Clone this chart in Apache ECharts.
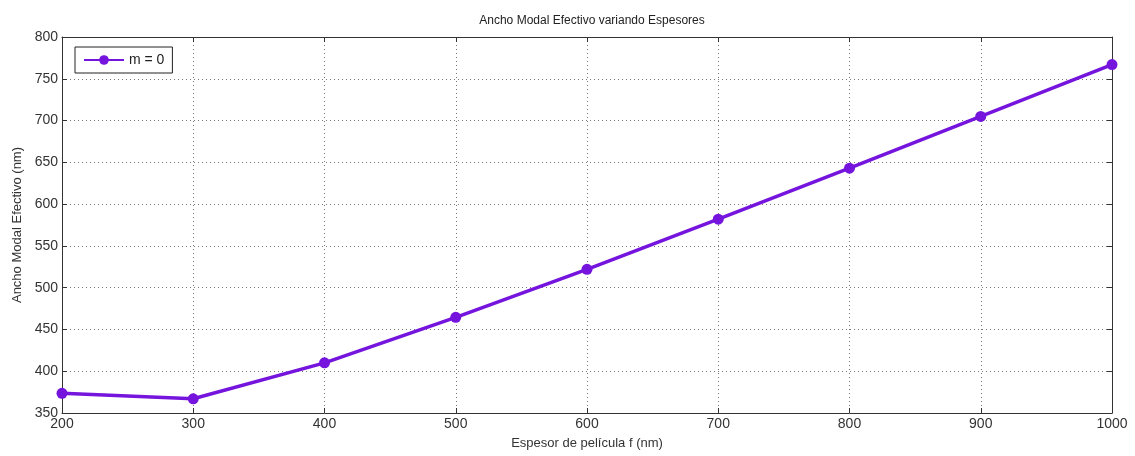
<!DOCTYPE html>
<html><head><meta charset="utf-8">
<script src="https://cdn.jsdelivr.net/npm/echarts@6/dist/echarts.min.js"></script>
<style>html,body{margin:0;padding:0;background:#fff}#c{width:1135px;height:456px}</style>
</head><body><div id="c"></div>
<script>
const xValues = [200, 300, 400, 500, 600, 700, 800, 900, 1000];
const seriesM0 = [373.5, 367, 410, 464.5, 522, 582, 643, 705, 767];
const seriesName = 'm = 0';
const titleText = 'Ancho Modal Efectivo variando Espesores';
const xName = 'Espesor de película f (nm)';
const yName = 'Ancho Modal Efectivo (nm)';

const font = 'Liberation Sans, Arial, sans-serif';
const col = '#7514dd';
const chart = echarts.init(document.getElementById('c'));
const axisLine = {show: true, lineStyle: {color: '#333', width: 1}};
const grid = {show: true, lineStyle: {color: '#777', type: [1, 3], width: 1}};
chart.setOption({
  animation: false,
  title: {text: titleText, left: 587, top: 10, textAlign: 'center',
    textStyle: {fontFamily: font, fontSize: 12, fontWeight: 'normal', color: '#222'}},
  legend: {left: 75, top: 47, orient: 'vertical', borderColor: '#222', borderWidth: 1,
    padding: [6, 8, 6, 8], itemWidth: 40, itemHeight: 12, itemGap: 4,
    textStyle: {fontFamily: font, fontSize: 14, color: '#222'}, data: [seriesName]},
  grid: {left: 62, right: 23, top: 37, bottom: 43},
  xAxis: [{type: 'value', min: 200, max: 1000, interval: 100,
    name: xName, nameLocation: 'middle', nameGap: 24,
    nameTextStyle: {fontFamily: font, fontSize: 13, color: '#333'},
    axisLine: axisLine, axisTick: {show: true, inside: true, length: 5, lineStyle: {color: '#333'}},
    axisLabel: {fontFamily: font, fontSize: 14, color: '#333', margin: 4, formatter: v => String(v)},
    splitLine: grid},
   {type: 'value', position: 'top', min: 200, max: 1000, interval: 100,
    axisLine: axisLine, axisTick: {show: true, inside: true, length: 5, lineStyle: {color: '#333'}},
    axisLabel: {show: false}, splitLine: {show: false}}],
  yAxis: [{type: 'value', min: 350, max: 800, interval: 50,
    name: yName, nameLocation: 'middle', nameGap: 38, nameRotate: 90,
    nameTextStyle: {fontFamily: font, fontSize: 13, color: '#333'},
    axisLine: axisLine, axisTick: {show: true, inside: true, length: 5, lineStyle: {color: '#333'}},
    axisLabel: {fontFamily: font, fontSize: 14, color: '#333', margin: 4},
    splitLine: grid},
   {type: 'value', position: 'right', min: 350, max: 800, interval: 50,
    axisLine: axisLine, axisTick: {show: true, inside: true, length: 5, lineStyle: {color: '#333'}},
    axisLabel: {show: false}, splitLine: {show: false}}],
  series: [{name: seriesName, type: 'line', data: xValues.map((x, i) => [x, seriesM0[i]]),
    symbol: 'circle', symbolSize: 11, lineStyle: {color: col, width: 3.5},
    itemStyle: {color: col}, clip: false}]
});
</script></body></html>
